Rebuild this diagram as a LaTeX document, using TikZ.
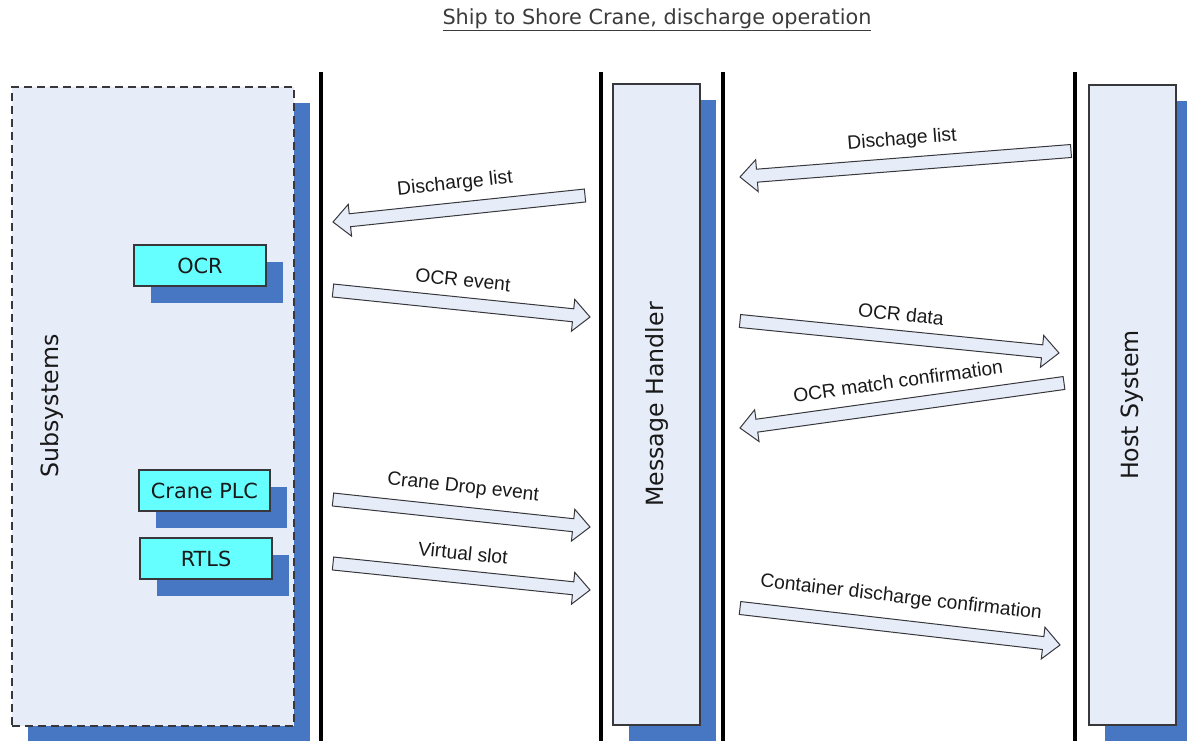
\documentclass[tikz,border=0pt]{standalone}
\usepackage{fontspec}
\setmainfont{DejaVu Sans}
\newfontfamily\arialf{Liberation Sans}
\usetikzlibrary{calc,shadows}
\definecolor{boxfill}{RGB}{231,237,248}
\definecolor{shadowblue}{RGB}{71,118,194}
\definecolor{cyanbox}{RGB}{102,255,255}
\definecolor{edge}{RGB}{55,55,60}
\definecolor{ink}{RGB}{25,25,25}
\newcommand{\flowarrow}[2]{%
  \coordinate (hb) at ($(#2)!17pt!(#1)$);
  \filldraw[flow] ($(#1)!6.5pt!90:(#2)$) -- ($(hb)!6.5pt!90:(#2)$) -- ($(hb)!16pt!90:(#2)$) -- (#2)
    -- ($(hb)!16pt!-90:(#2)$) -- ($(hb)!6.5pt!-90:(#2)$) -- ($(#1)!6.5pt!-90:(#2)$) -- cycle;}
\begin{document}
\begin{tikzpicture}[x=1pt,y=-1pt,
  lifeline/.style={line width=3.5pt, black},
  bigbox/.style={draw=edge, line width=1.2pt, fill=boxfill, inner sep=0pt,
    general shadow={fill=shadowblue, shadow xshift=16pt, shadow yshift=-16pt}},
  dashbox/.style={bigbox, dash pattern=on 8pt off 5pt},
  subbox/.style={draw=edge, line width=1.1pt, fill=cyanbox, inner sep=0pt,
    minimum width=132pt, minimum height=41pt, text=ink,
    font=\fontsize{20.8}{24}\selectfont,
    general shadow={fill=shadowblue, shadow xshift=16.5pt, shadow yshift=-16.5pt}},
  vlabel/.style={rotate=90, text=ink, font=\fontsize{23.7}{28}\selectfont},
  flow/.style={draw=edge, line width=1pt, fill=boxfill, line join=miter},
  lbl/.style={text=ink, inner sep=0pt, font=\arialf\fontsize{19.3}{22}\selectfont},
  titlestyle/.style={text=ink!85, font=\fontsize{20.8}{24}\selectfont}]
\useasboundingbox (0,0) rectangle (1187,740);

% title
\node[titlestyle] (title) at (657,20) {\underline{Ship to Shore Crane, discharge operation}};

% lifelines
\coordinate (l1t) at (321,72);  \coordinate (l1b) at (321,745);
\coordinate (l2t) at (601,72);  \coordinate (l2b) at (601,745);
\coordinate (l3t) at (723,72);  \coordinate (l3b) at (723,745);
\coordinate (l4t) at (1075,72); \coordinate (l4b) at (1075,745);
\draw[lifeline] (l1t) -- (l1b);
\draw[lifeline] (l2t) -- (l2b);
\draw[lifeline] (l3t) -- (l3b);
\draw[lifeline] (l4t) -- (l4b);

% big boxes
\node[dashbox, minimum width=282pt, minimum height=639pt] (sub) at (153,406.5) {};
\node[vlabel] (subtxt) at (52,406) {Subsystems};
\node[bigbox, minimum width=87pt, minimum height=641pt] (mh) at (656.5,404.5) {};
\node[vlabel] (mhtxt) at (mh.center) {Message Handler};
\node[bigbox, minimum width=87pt, minimum height=640pt] (host) at (1132.5,405) {};
\node[vlabel] (hosttxt) at (host.center) {Host System};

% subsystem boxes
\node[subbox] (ocr) at (200,265.5) {OCR};
\node[subbox, minimum width=131pt] (plc) at (204.5,490.5) {Crane PLC};
\node[subbox] (rtls) at (206,558.5) {RTLS};

% arrows: tail / tip coordinates
\coordinate (a1s) at (585,195.5);  \coordinate (a1e) at (333,222);
\coordinate (a2s) at (333,290.5);  \coordinate (a2e) at (590,317);
\coordinate (a3s) at (1071,151);   \coordinate (a3e) at (740,177);
\coordinate (a4s) at (740,321);    \coordinate (a4e) at (1059,353);
\coordinate (a5s) at (1064,383);   \coordinate (a5e) at (740,428);
\coordinate (a6s) at (333,499.5);  \coordinate (a6e) at (590,527);
\coordinate (a7s) at (333,563.5);  \coordinate (a7e) at (590,590);
\coordinate (a8s) at (740,608);    \coordinate (a8e) at (1060,645);

\flowarrow{a1s}{a1e}
\flowarrow{a2s}{a2e}
\flowarrow{a3s}{a3e}
\flowarrow{a4s}{a4e}
\flowarrow{a5s}{a5e}
\flowarrow{a6s}{a6e}
\flowarrow{a7s}{a7e}
\flowarrow{a8s}{a8e}

% labels
\node[lbl, rotate=6]    (t1) at (455,184) {Discharge list};
\node[lbl, rotate=-6]   (t2) at (463,280) {OCR event};
\node[lbl, rotate=4.5]  (t3) at (902,140) {Dischage list};
\node[lbl, rotate=-5.7] (t4) at (901,314) {OCR data};
\node[lbl, rotate=7.9]  (t5) at (898,381) {OCR match confirmation};
\node[lbl, rotate=-6.1] (t6) at (463,488) {Crane Drop event};
\node[lbl, rotate=-5.9] (t7) at (463,553) {Virtual slot};
\node[lbl, rotate=-6.6] (t8) at (901,598) {Container discharge confirmation};
\end{tikzpicture}
\end{document}
